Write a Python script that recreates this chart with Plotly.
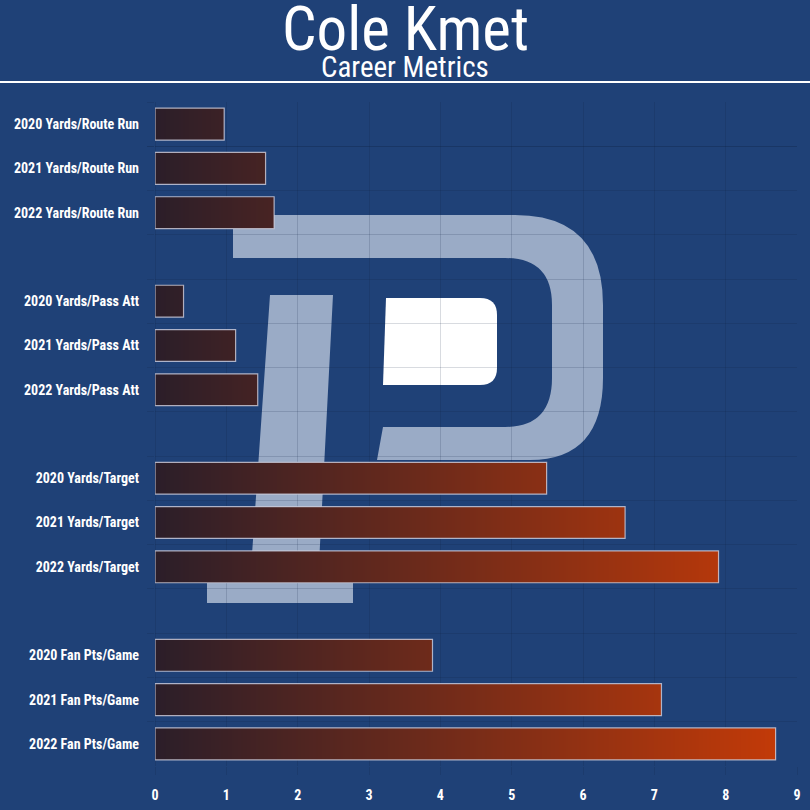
import numpy as np
import plotly.graph_objects as go

# ---------------- data ----------------
categories = [
    "2020 Yards/Route Run", "2021 Yards/Route Run", "2022 Yards/Route Run",
    "2020 Yards/Pass Att", "2021 Yards/Pass Att", "2022 Yards/Pass Att",
    "2020 Yards/Target", "2021 Yards/Target", "2022 Yards/Target",
    "2020 Fan Pts/Game", "2021 Fan Pts/Game", "2022 Fan Pts/Game",
]
values = [0.97, 1.55, 1.67,
          0.40, 1.13, 1.44,
          5.49, 6.59, 7.90,
          3.89, 7.10, 8.70]
spacers = [" ", "  ", "   "]
x_ticks = [0, 1, 2, 3, 4, 5, 6, 7, 8, 9]
title_text = "Cole Kmet"
subtitle_text = "Career Metrics"

# category order with blank spacer rows between groups
cat_order = (categories[0:3] + [spacers[0]] + categories[3:6] + [spacers[1]]
             + categories[6:9] + [spacers[2]] + categories[9:12])

# ---------------- styling ----------------
BG = "#1f4177"
GRID = "rgba(15,30,60,0.16)"
C0 = np.array([43, 30, 41])
C1 = np.array([194, 58, 8])
BAR_W = 0.72
FONT = "Roboto Condensed, Liberation Sans Narrow, Roboto, sans-serif"

xmax = max(values)


def grad(t):
    c = C0 + (C1 - C0) * min(max(t, 0), 1)
    return "rgb(%d,%d,%d)" % tuple(c.round().astype(int))


# gradient bars: overlapping bars from 0, longest first, each coloured by its end
step = 0.03
gx, gy, gc = [], [], []
for cat, v in zip(categories, values):
    ends = list(np.arange(step, v, step)) + [v]
    for e in sorted(ends, reverse=True):
        gx.append(e)
        gy.append(cat)
        gc.append(grad((e - step / 2) / xmax))

fig = go.Figure()
fig.add_trace(go.Bar(
    x=gx, y=gy, orientation="h", width=BAR_W,
    marker=dict(color=gc, line=dict(width=0)),
    hoverinfo="skip", showlegend=False,
))
fig.add_trace(go.Bar(
    x=values, y=categories, orientation="h", width=BAR_W,
    marker=dict(color="rgba(0,0,0,0)", line=dict(color="rgba(200,200,215,0.85)", width=1.2)),
    hoverinfo="skip", showlegend=False,
))

# ---------------- layout geometry (pixels) ----------------
W = H = 810
L, R, T, B = 155, 13, 102, 44
pw, ph = W - L - R, H - T - B


def px(x):
    return (x - L) / pw


def py(y):
    return (H - B - y) / ph


def path(points):
    return "M " + " L ".join("%.5f,%.5f" % (px(a), py(b)) for a, b in points) + " Z"


def qpath(cmds):
    out = []
    for c in cmds:
        if c[0] in ("M", "L"):
            out.append("%s %.5f,%.5f" % (c[0], px(c[1]), py(c[2])))
        elif c[0] == "Q":
            out.append("Q %.5f,%.5f %.5f,%.5f" % (px(c[1]), py(c[2]), px(c[3]), py(c[4])))
    return " ".join(out) + " Z"


WM = "#9aabc6"
shapes = []
# watermark "D" band
shapes.append(dict(
    type="path", xref="paper", yref="paper", layer="below", line=dict(width=0), fillcolor=WM,
    path=qpath([("M", 233, 215), ("L", 515, 215), ("Q", 603, 215, 603, 305), ("L", 603, 378),
                ("Q", 603, 460, 530, 460), ("L", 377, 460), ("L", 383, 427), ("L", 505, 427),
                ("Q", 552, 427, 552, 378), ("L", 552, 305), ("Q", 552, 258, 505, 258),
                ("L", 233, 258)]),
))
# watermark stem with foot
shapes.append(dict(
    type="path", xref="paper", yref="paper", layer="below", line=dict(width=0), fillcolor=WM,
    path=path([(270, 295), (333, 295), (318, 583), (353, 583), (353, 603),
               (207, 603), (207, 583), (250, 583)]),
))
# white inner block
shapes.append(dict(
    type="path", xref="paper", yref="paper", layer="below", line=dict(width=0), fillcolor="#ffffff",
    path=qpath([("M", 386, 298), ("L", 480, 298), ("Q", 497, 298, 497, 315), ("L", 497, 368),
                ("Q", 497, 385, 480, 385), ("L", 383, 385)]),
))
# white rule under the title
shapes.append(dict(
    type="line", xref="paper", yref="paper", x0=px(0), x1=px(W), y0=py(82), y1=py(82),
    line=dict(color="#ffffff", width=2),
))

annotations = [
    dict(text=title_text, xref="paper", yref="paper", x=px(405), y=py(29),
         xanchor="center", yanchor="middle", showarrow=False,
         font=dict(family=FONT, size=61, color="#ffffff")),
    dict(text=subtitle_text, xref="paper", yref="paper", x=px(405), y=py(67),
         xanchor="center", yanchor="middle", showarrow=False,
         font=dict(family=FONT, size=29, color="#ffffff")),
]

fig.update_layout(
    width=W, height=H,
    margin=dict(l=L, r=R, t=T, b=B, pad=0, autoexpand=False),
    paper_bgcolor=BG, plot_bgcolor=BG,
    barmode="overlay", bargap=0,
    shapes=shapes, annotations=annotations,
    showlegend=False,
    xaxis=dict(
        range=[0, 9], tickvals=x_ticks, ticktext=[str(t) for t in x_ticks],
        showgrid=True, gridcolor=GRID, gridwidth=1,
        zeroline=True, zerolinecolor=GRID, zerolinewidth=1,
        showline=False, ticks="outside", ticklen=8, tickcolor=GRID,
        ticklabelstandoff=8, automargin=False,
        tickfont=dict(family=FONT, size=14, color="#ffffff", weight="bold"),
        fixedrange=True,
    ),
    yaxis=dict(
        type="category", categoryorder="array", categoryarray=cat_order,
        range=[len(cat_order) - 0.5, -0.5],
        tickson="boundaries", showgrid=True, gridcolor=GRID, gridwidth=1,
        ticks="outside", ticklen=7, tickcolor=GRID,
        ticklabelstandoff=15, showline=False, zeroline=False, automargin=False,
        tickfont=dict(family=FONT, size=14, color="#ffffff", weight="bold"),
        fixedrange=True,
    ),
)

fig.write_html(
    "out.html",
    config={"displayModeBar": False, "staticPlot": True},
    post_script="document.body.style.margin='0';document.body.style.padding='0';"
                "document.body.style.background='" + BG + "';"
                "document.body.style.overflow='hidden';",
)
